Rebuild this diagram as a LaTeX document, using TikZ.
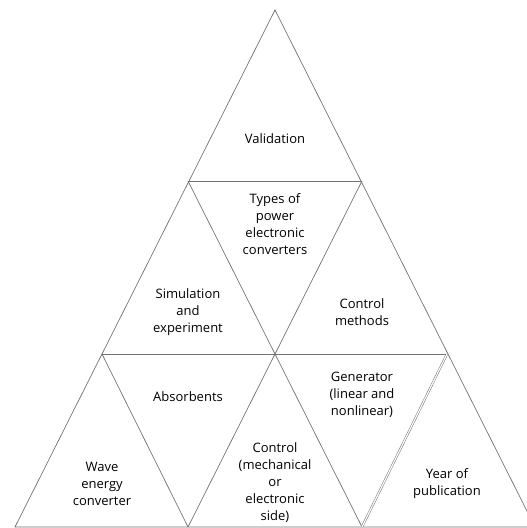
\documentclass[tikz,border=0pt]{standalone}
\usepackage{fontspec}
\setmainfont{Open Sans}
\usetikzlibrary{calc}
\newcommand{\champ}[3]{\node[label] (#1) at (#2) {#3}}

\begin{document}
\begin{tikzpicture}[x=1pt, y=1pt,
    edge/.style={draw=black!55, line width=0.7pt},
    label/.style={align=center, inner sep=0pt, font=\fontsize{13}{17}\selectfont, text=black}]
                \useasboundingbox (0,0) rectangle (527,528);

                % corners of the pyramid, row by row
                \coordinate (a) at (275,518);
                \coordinate (b1) at (188,347);
                \coordinate (b2) at (362,347);
                \coordinate (c1) at (102,174);
                \coordinate (c2) at (275,174);
                \coordinate (c3) at (447,174);
                \coordinate (d1) at (15,1);
                \coordinate (d2) at (188,1);
                \coordinate (d3) at (362,1);
                \coordinate (d4) at (535,1);

                \draw[edge] (a) -- (d1) -- (d4) -- cycle;
                \draw[edge] (b1) -- (b2);
                \draw[edge] (c1) -- (c3);
                \draw[edge] (b1) -- (d3);
                \draw[edge] (b2) -- (d2);
                \draw[edge] (c1) -- (d2);
                \draw[edge, double=white, double distance=1.2pt, line width=0.5pt] (c3) -- (d3);

                \champ{valid}{275,389}{Validation};
                \champ{types}{275,304}{Types of\\power\\electronic\\converters};
                \champ{simul}{188,216}{Simulation\\and\\experiment};
                \champ{methods}{362,216}{Control\\methods};
                \champ{absorb}{188,131}{Absorbents};
                \champ{generator}{362,133}{Generator\\(linear and\\nonlinear)};
                \champ{wave}{102,44}{Wave\\energy\\converter};
                \champ{control}{275,45}{Control\\(mechanical\\or\\electronic\\side)};
                \champ{year}{447,44}{Year of\\publication};
            \end{tikzpicture}
\end{document}
